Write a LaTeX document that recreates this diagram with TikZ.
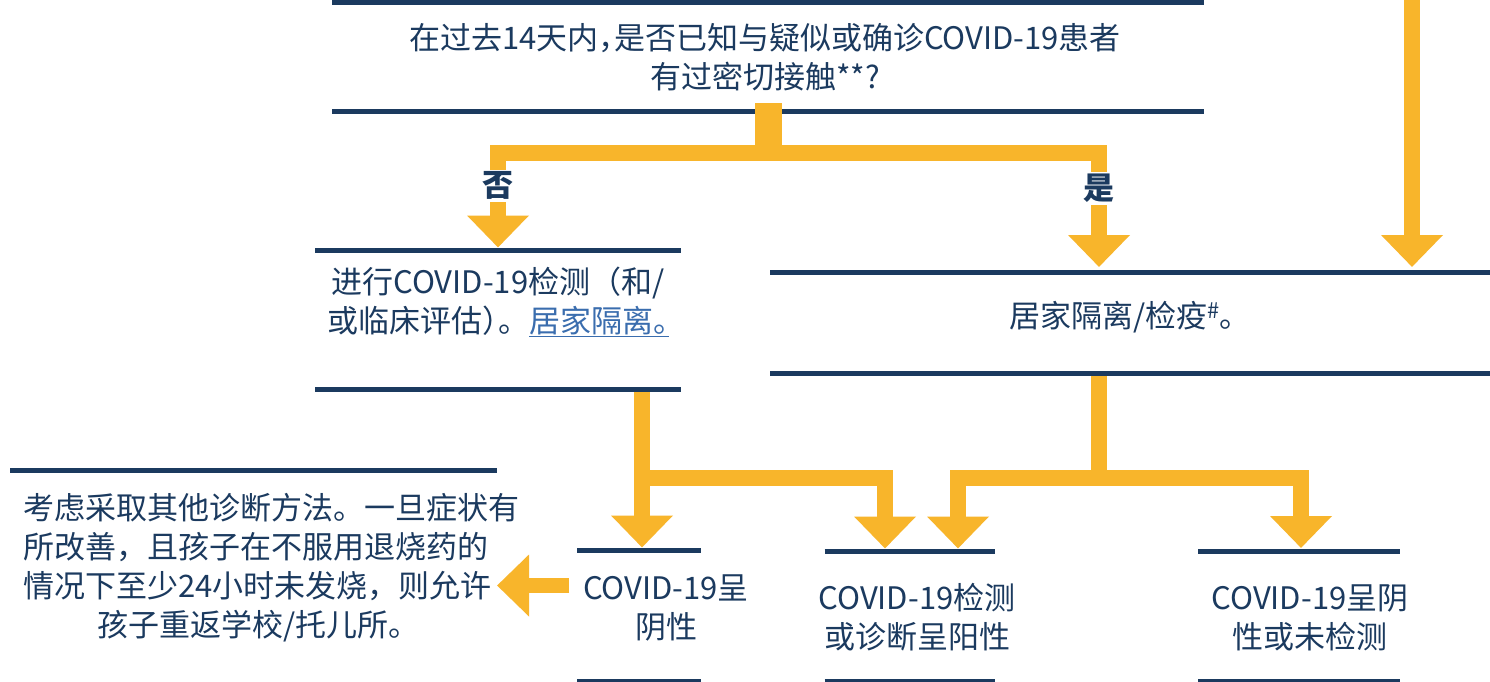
\documentclass[tikz,border=0pt]{standalone}
\usepackage{fontspec}
\setmainfont{Noto Sans CJK SC}
\usepackage{tikz}
\usetikzlibrary{arrows.meta}
\definecolor{Navy}{HTML}{1B3A5F}
\definecolor{Amber}{HTML}{F8B52B}
\definecolor{Link}{HTML}{3A6DAE}
% half-width punctuation
\newcommand{\halfw}[1]{{\addfontfeatures{RawFeature=+halt}#1}}

\begin{document}
\begin{tikzpicture}[x=1pt,y=-1pt,
  box/.style={inner sep=0pt,outer sep=0pt},
  txt/.style={align=center,text=Navy,inner sep=0pt,font=\fontsize{31}{39}\selectfont},
  lbl/.style={fill=white,text=Navy,inner sep=2pt,font=\fontsize{31}{39}\selectfont\bfseries},
  bar/.style={draw=Navy,line width=5pt},
  flow/.style={draw=Amber,line width=16pt},
  tip/.style={-{Triangle[width=60pt,length=32pt]},shorten >=3pt}]
% Frame
\useasboundingbox (0,0) rectangle (1490,681);
\clip (0,0) rectangle (1490,681);
\fill[white] (0,0) rectangle (1490,681);
% Boxes between two rules
\node[box,minimum width=872pt,minimum height=109pt] (ask) at (768,57) {};
\node[box,minimum width=366pt,minimum height=139pt] (test) at (498,320) {};
\node[box,minimum width=720pt,minimum height=101.5pt] (home) at (1130,322.75) {};
\node[box,minimum width=487pt,minimum height=230pt] (alt) at (253.5,585.5) {};
\node[box,minimum width=124pt,minimum height=130.5pt] (neg) at (639,615.75) {};
\node[box,minimum width=170pt,minimum height=129.5pt] (pos) at (909.5,616.25) {};
\node[box,minimum width=202pt,minimum height=130pt] (none) at (1299,616) {};
% Texts
\node[txt] (asktext) at ([xshift=-3pt]ask.center) {在过去14天内\halfw{，}是否已知与疑似或确诊COVID-19患者\\有过密切接触**?};
\node[txt] (testtext) at ([yshift=18.5pt]test.center) {进行COVID-19检测（和/\\或临床评估\halfw{）}。\textcolor{Link}{\underline{居家隔离\halfw{。}}}};
\node[txt] (hometext) at ([yshift=5.5pt]home.center) {居家隔离/检疫\textsuperscript{\#}。};
\node[txt,align=left] (alttext) at ([shift={(18pt,18pt)}]alt.center) {考虑采取其他诊断方法。一旦症状有\\所改善，且孩子在不服用退烧药的\\情况下至少24小时未发烧，则允许\\\hspace*{74pt}孩子重返学校/托儿所。};
\node[txt] (negtext) at ([shift={(27pt,8.25pt)}]neg.center) {COVID-19呈\\阴性};
\node[txt] (postext) at ([shift={(7.5pt,-1.25pt)}]pos.center) {COVID-19检测\\或诊断呈阳性};
\node[txt] (nonetext) at ([shift={(11pt,-1.5pt)}]none.center) {COVID-19呈阴\\性或未检测};
% Question branches
\coordinate (fork) at ([yshift=-41pt]ask.south);
\draw[flow,tip] (fork) -| node[lbl,pos=0.67] (no) {否} (test.north);
\draw[flow,tip,shorten >=5pt] (fork) -| node[lbl,pos=0.65] (yes) {是} ([xshift=-31pt]home.north);
% Entry from above
\coordinate (entry) at (1412,-10);
\draw[flow,tip,shorten >=5pt] (entry) -- (entry |- home.north);
% Test results
\coordinate (j1) at ([shift={(-39pt,-88pt)}]test.south east);
\draw[flow,tip] ([xshift=-39pt]test.south east) -- (j1) -- (j1 |- neg.north);
\draw[flow,tip] (j1) -| ([xshift=-24.5pt]pos.north);
\coordinate (j2) at ([shift={(-31.5pt,-104pt)}]home.south);
\draw[flow] ([xshift=-31.5pt]home.south) -- (j2);
\draw[flow,tip] (j2) -| ([xshift=48.5pt]pos.north);
\draw[flow,tip] (j2) -| ([xshift=2pt]none.north);
% Back to school
\coordinate (back) at ([shift={(-8pt,30.25pt)}]neg.west);
\draw[flow,tip,line width=15pt,shorten >=0pt] (back) -- (back -| alt.east);
% Rules
\foreach \r in {ask,test,home,alt,neg,pos,none}
  \draw[bar] (\r.north west) -- (\r.north east) (\r.south west) -- (\r.south east);
% Stem over the rule
\draw[flow,line width=27pt] ([yshift=8.5pt]ask.south) -- ([yshift=-48.5pt]ask.south);
\end{tikzpicture}
\end{document}
